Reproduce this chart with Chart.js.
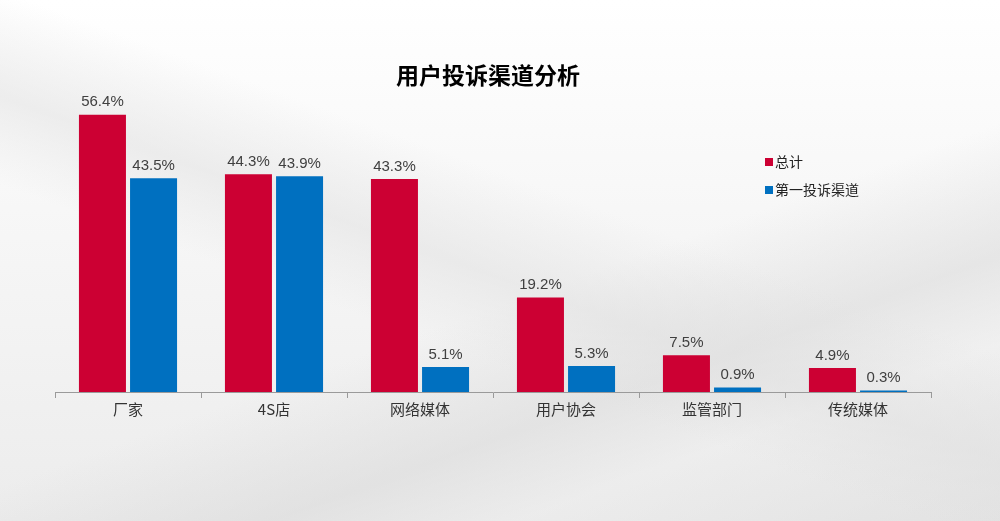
<!DOCTYPE html>
<html>
<head>
<meta charset="utf-8">
<script src="https://cdn.jsdelivr.net/npm/chart.js@4/dist/chart.umd.min.js"></script>
<style>
html,body{margin:0;padding:0;width:1000px;height:521px;overflow:hidden;}
body{
  background:
    linear-gradient(200deg, rgba(255,255,255,0) 0%, rgba(255,255,255,0) 40%, rgba(225,225,225,0.55) 52%, rgba(255,255,255,0) 62%),
    linear-gradient(160deg, rgba(255,255,255,0) 55%, rgba(215,215,215,0.5) 70%, rgba(235,235,235,0.3) 80%, rgba(220,220,220,0.6) 100%),
    linear-gradient(180deg, #ffffff 0%, #f7f7f7 40%, #ececec 100%);
}
#wrap{position:absolute;left:0;top:0;width:1000px;height:521px;}
</style>
</head>
<body>
<div id="wrap"><canvas id="c" width="1000" height="521"></canvas></div>
<script>
const categories = ["厂家","4S店","网络媒体","用户协会","监管部门","传统媒体"];
const totalValues = [56.4,44.3,43.3,19.2,7.5,4.9];
const firstChannelValues = [43.5,43.9,5.1,5.3,0.9,0.3];
const seriesNames = ["总计","第一投诉渠道"];
const chartTitle = "用户投诉渠道分析";

const FONT = "'Liberation Sans', Arial, 'Noto Sans CJK SC', sans-serif";

const extras = {
  id: 'extras',
  afterDatasetsDraw(chart) {
    const ctx = chart.ctx;
    ctx.save();
    // data labels
    ctx.font = "15px " + FONT;
    ctx.fillStyle = "#404040";
    ctx.textAlign = "center";
    ctx.textBaseline = "bottom";
    chart.data.datasets.forEach((ds, i) => {
      const meta = chart.getDatasetMeta(i);
      meta.data.forEach((bar, j) => {
        ctx.fillText(ds.data[j].toFixed(1) + "%", bar.x, bar.y - 5);
      });
    });
    // title
    ctx.font = "bold 23px 'Noto Sans CJK SC', sans-serif";
    ctx.fillStyle = "#000";
    ctx.textBaseline = "middle";
    ctx.fillText(chartTitle, 488, 75);
    // legend
    ctx.font = "14px 'Noto Sans CJK SC', sans-serif";
    ctx.textAlign = "left";
    chart.data.datasets.forEach((ds, i) => {
      const y = 162 + i * 28;
      ctx.fillStyle = ds.backgroundColor;
      ctx.fillRect(765, y - 4, 8, 8);
      ctx.fillStyle = "#222";
      ctx.fillText(ds.label, 775, y);
    });
    ctx.restore();
  }
};

new Chart(document.getElementById('c'), {
  type: 'bar',
  data: {
    labels: categories,
    datasets: [
      {label: seriesNames[0], data: totalValues, backgroundColor: "#CC0033", categoryPercentage: 0.70, barPercentage: 0.92},
      {label: seriesNames[1], data: firstChannelValues, backgroundColor: "#0070C0", categoryPercentage: 0.70, barPercentage: 0.92}
    ]
  },
  options: {
    responsive: false,
    animation: false,
    layout: {padding: {left: 55, right: 69, top: 97, bottom: 99}},
    plugins: {legend: {display: false}, title: {display: false}, tooltip: {enabled: false}},
    scales: {
      x: {
        afterFit: (s) => { s.height = 30; },
        grid: {display: true, drawOnChartArea: false, drawTicks: true, tickLength: 6, color: "#9a9a9a", offset: true},
        border: {display: true, color: "#9a9a9a", width: 1},
        ticks: {font: {size: 15, family: "'Noto Sans CJK SC', sans-serif"}, color: "#333", padding: 2}
      },
      y: {display: false, min: 0, max: 60}
    }
  },
  plugins: [extras]
});
</script>
</body>
</html>
